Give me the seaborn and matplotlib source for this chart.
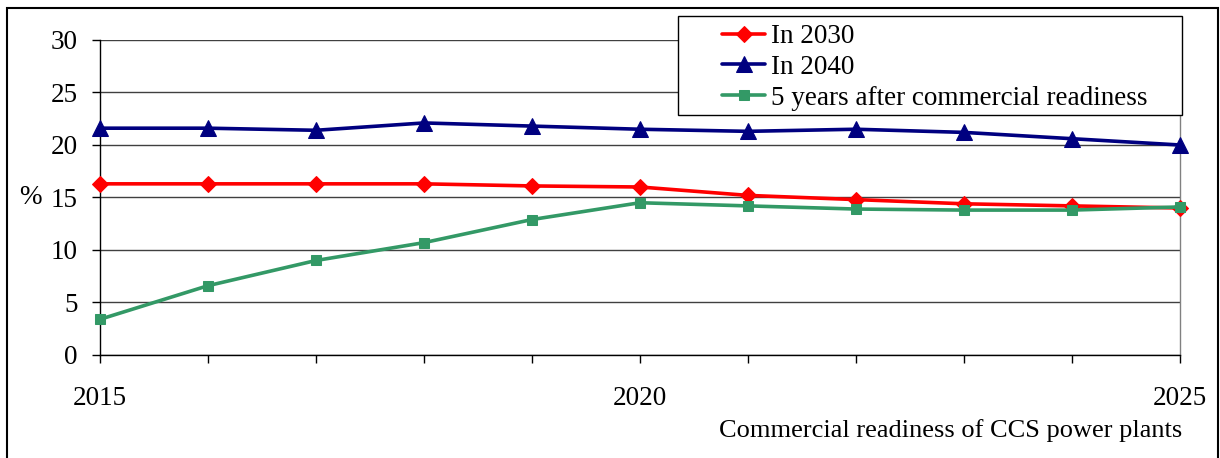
import pandas as pd
import numpy as np
import matplotlib
matplotlib.use('Agg')
import matplotlib.pyplot as plt
import seaborn as sns
from matplotlib.patches import Rectangle

# readiness years and shares (%)
years = [2015, 2016, 2017, 2018, 2019, 2020, 2021, 2022, 2023, 2024, 2025]
in_2030 = [16.3, 16.3, 16.3, 16.3, 16.1, 16.0, 15.2, 14.8, 14.4, 14.2, 14.0]
in_2040 = [21.6, 21.6, 21.4, 22.1, 21.8, 21.5, 21.3, 21.5, 21.2, 20.6, 20.0]
five_after = [3.4, 6.6, 9.0, 10.7, 12.9, 14.5, 14.2, 13.9, 13.8, 13.8, 14.1]
series_names = ['In 2030', 'In 2040', '5 years after commercial readiness']
xtick_labels = ['2015', '', '', '', '', '2020', '', '', '', '', '2025']

df = pd.DataFrame({'year': years * 3,
                   'share': in_2030 + in_2040 + five_after,
                   'series': [s for s in series_names for _ in years]})

sns.set_style('white')
plt.rcParams['font.family'] = ['Liberation Serif', 'DejaVu Serif']
plt.rcParams['text.color'] = 'black'
plt.rcParams['xtick.color'] = 'black'
plt.rcParams['ytick.color'] = 'black'
fs = 19.5

fig = plt.figure(figsize=(12.2, 4.58), dpi=100)
ax = fig.add_axes([0.082, 0.2249, 0.885, 0.6878])

colors = {'In 2030': '#FF0000', 'In 2040': '#000080',
          '5 years after commercial readiness': '#339966'}
markers = {'In 2030': 'D', 'In 2040': '^',
           '5 years after commercial readiness': 's'}
sizes = {'In 2030': 8.5, 'In 2040': 11, '5 years after commercial readiness': 7}

for name in series_names:
    sub = df[df['series'] == name]
    sns.lineplot(data=sub, x='year', y='share', ax=ax, color=colors[name],
                 marker=markers[name], markersize=sizes[name],
                 markeredgecolor=colors[name], linewidth=2.6, label=name,
                 zorder=3, clip_on=False)

ax.set_xlim(2015, 2025)
ax.set_ylim(0, 30)
ax.set_yticks([0, 5, 10, 15, 20, 25, 30])
ax.set_xticks(years)
ax.set_xticklabels(xtick_labels)
ax.yaxis.grid(True, color='#404040', linewidth=1.0)
ax.set_axisbelow(True)

for side in ['left', 'bottom']:
    ax.spines[side].set_color('black')
    ax.spines[side].set_linewidth(1.0)
ax.spines['top'].set_visible(False)
ax.spines['right'].set_color('#808080')
ax.spines['right'].set_linewidth(1.0)

ax.tick_params(axis='y', direction='out', length=6, width=1, color='black',
               labelsize=fs, pad=10, left=True)
ax.tick_params(axis='x', direction='out', length=6, width=1, color='black',
               labelsize=fs, pad=16, bottom=True)

ax.set_xlabel('')
ax.set_ylabel('')
fig.text(1182 / 1220, 1 - 431 / 458, 'Commercial readiness of CCS power plants',
         ha='right', va='center', fontsize=19)
fig.text(30 / 1220, 1 - 197 / 458, '%', ha='center', va='center', fontsize=fs)

# legend box drawn separately so its side padding can match the reference
ax.add_patch(Rectangle((678 / 1220, 1 - 115 / 458), 504 / 1220, 99 / 458,
                       transform=fig.transFigure, facecolor='white',
                       edgecolor='black', linewidth=1.0, zorder=4,
                       clip_on=False))
leg = ax.legend(loc='upper left', bbox_to_anchor=(722 / 1220, 1 - 24 / 458),
                bbox_transform=fig.transFigure, borderaxespad=0, borderpad=0,
                fontsize=fs, frameon=False, handlelength=1.6,
                handletextpad=0.2, labelspacing=0.22)
leg.set_zorder(5)

# outer chart border
fig.patches.append(Rectangle((7 / 1220, -0.05), 1211 / 1220, 1.05 - 8 / 458,
                             transform=fig.transFigure, fill=False,
                             edgecolor='black', linewidth=1.5))

fig.savefig('out.png', dpi=100)
